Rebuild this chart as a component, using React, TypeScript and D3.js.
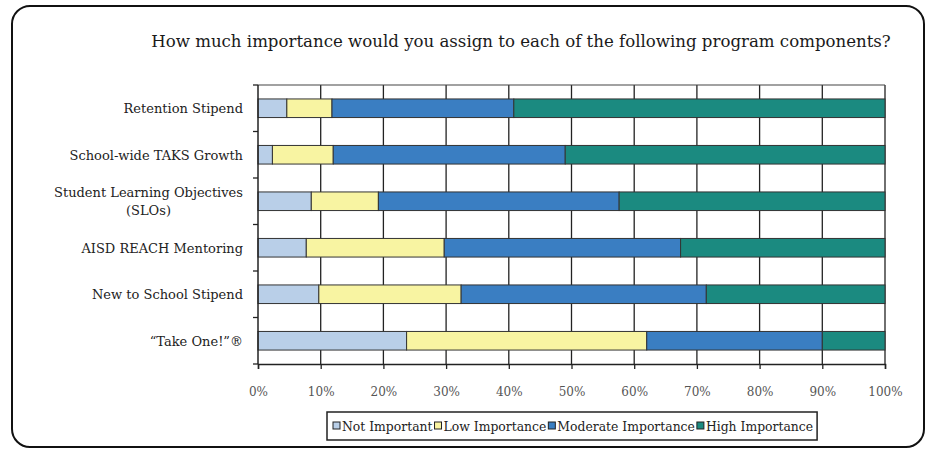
import React, { useEffect, useRef } from 'react';
import * as d3 from 'd3';

const categories = [
    'Retention Stipend',
    'School-wide TAKS Growth',
    'Student Learning Objectives|(SLOs)',
    'AISD REACH Mentoring',
    'New to School Stipend',
    '\u201CTake One!\u201D\u00AE',
];

const seriesNames = ['Not Important', 'Low Importance', 'Moderate Importance', 'High Importance'];

const notImportant = [4.6, 2.3, 8.5, 7.7, 9.7, 23.7];
const lowImportance = [7.2, 9.7, 10.7, 22.0, 22.7, 38.3];
const moderateImportance = [29.0, 37.0, 38.4, 37.7, 39.1, 28.0];
const highImportance = [59.2, 51.0, 42.4, 32.6, 28.5, 10.0];

const xTicks = [0, 10, 20, 30, 40, 50, 60, 70, 80, 90, 100];

const colors = ['#b9cfe8', '#f8f4a2', '#3a7ec2', '#1b8a80'];

const FONT = '"DejaVu Serif", "Liberation Serif", serif';

const App: React.FC = () => {
    const ref = useRef<SVGSVGElement | null>(null);

    useEffect(() => {
        if (!ref.current) return;
        const svg = d3.select(ref.current);
        svg.selectAll('*').remove();

        const width = 930;
        const height = 450;
        const margin = { left: 258, right: 45, top: 85, bottom: 86 };

        svg.append('rect').attr('width', width).attr('height', height).attr('fill', '#fff');

        // outer frame
        svg.append('rect')
            .attr('x', 12).attr('y', 6)
            .attr('width', 912).attr('height', 441)
            .attr('rx', 18)
            .attr('fill', 'none')
            .attr('stroke', '#111')
            .attr('stroke-width', 2);

        svg.append('text')
            .attr('x', 521).attr('y', 47)
            .attr('text-anchor', 'middle')
            .style('font-family', FONT)
            .style('font-size', '16.6px')
            .style('fill', '#1a1a1a')
            .text('How much importance would you assign to each of the following program components?');

        const x = d3.scaleLinear().domain([0, 100]).range([margin.left, width - margin.right]);
        const y = d3.scaleBand<string>()
            .domain(categories)
            .range([margin.top, height - margin.bottom])
            .paddingInner(0.6)
            .paddingOuter(0.3);

        const rows = categories.map((c, i) => ({
            cat: c,
            vals: [notImportant[i], lowImportance[i], moderateImportance[i], highImportance[i]],
        }));
        const stack = d3.stack<any>()
            .keys([0, 1, 2, 3] as any)
            .value((d: any, k: any) => d.vals[k]);
        const series = stack(rows);

        // vertical grid
        svg.append('g')
            .selectAll('line')
            .data(xTicks.slice(1))
            .enter().append('line')
            .attr('x1', d => x(d)).attr('x2', d => x(d))
            .attr('y1', margin.top).attr('y2', height - margin.bottom)
            .attr('stroke', '#222')
            .attr('stroke-width', 1.3);

        svg.append('line')
            .attr('x1', margin.left).attr('x2', width - margin.right)
            .attr('y1', margin.top).attr('y2', margin.top)
            .attr('stroke', '#444').attr('stroke-width', 1.2);

        // bars
        series.forEach((s, si) => {
            svg.append('g')
                .selectAll('rect')
                .data(s)
                .enter().append('rect')
                .attr('x', d => x(d[0]))
                .attr('width', d => x(d[1]) - x(d[0]))
                .attr('y', d => y((d.data as any).cat) as number)
                .attr('height', y.bandwidth())
                .attr('fill', colors[si])
                .attr('stroke', '#333')
                .attr('stroke-width', 1);
        });

        // bottom axis
        const xAxis = svg.append('g')
            .attr('transform', `translate(0,${height - margin.bottom})`)
            .call(d3.axisBottom(x).tickValues(xTicks).tickSize(5).tickFormat(d => `${d}%`));
        xAxis.select('.domain').attr('stroke', '#222').attr('stroke-width', 1.5);
        xAxis.selectAll('.tick line').attr('stroke', '#222').attr('stroke-width', 1.3);
        xAxis.selectAll('.tick text')
            .attr('y', 23)
            .style('font-family', FONT)
            .style('font-size', '12px')
            .style('fill', '#555');

        // left axis
        svg.append('line')
            .attr('x1', margin.left).attr('x2', margin.left)
            .attr('y1', margin.top).attr('y2', height - margin.bottom)
            .attr('stroke', '#222').attr('stroke-width', 1.5);
        const bounds = d3.range(categories.length + 1).map(i => margin.top + i * y.step());
        svg.append('g')
            .selectAll('line')
            .data(bounds)
            .enter().append('line')
            .attr('x1', margin.left - 5).attr('x2', margin.left)
            .attr('y1', d => d).attr('y2', d => d)
            .attr('stroke', '#222').attr('stroke-width', 1.3);

        // category labels
        categories.forEach(c => {
            const lines = c.split('|');
            const cy = (y(c) as number) + y.bandwidth() / 2;
            const t = svg.append('text')
                .style('font-family', FONT)
                .style('font-size', '13px')
                .style('fill', '#222');
            if (lines.length === 1) {
                t.attr('text-anchor', 'end').attr('x', 243).attr('y', cy + 5).text(c);
            } else {
                const first = t.attr('text-anchor', 'end').attr('x', 243).attr('y', cy - 4).text(lines[0]);
                const w = (first.node() as SVGTextElement).getComputedTextLength();
                svg.append('text')
                    .attr('text-anchor', 'middle')
                    .attr('x', 243 - w / 2).attr('y', cy + 14)
                    .style('font-family', FONT)
                    .style('font-size', '13px')
                    .style('fill', '#222')
                    .text(lines[1]);
            }
        });

        // legend
        const lg = svg.append('g');
        const box = lg.append('rect')
            .attr('y', 412).attr('height', 28)
            .attr('fill', '#fff')
            .attr('stroke', '#222')
            .attr('stroke-width', 1.5);
        let lx = 333;
        seriesNames.forEach((n, i) => {
            lg.append('rect')
                .attr('x', lx).attr('y', 422)
                .attr('width', 7).attr('height', 7)
                .attr('fill', colors[i])
                .attr('stroke', '#222');
            const t = lg.append('text')
                .attr('x', lx + 9).attr('y', 431)
                .style('font-family', FONT)
                .style('font-size', '12.4px')
                .style('fill', '#222')
                .text(n);
            lx += 9 + (t.node() as SVGTextElement).getComputedTextLength() + 2;
        });
        box.attr('x', 327).attr('width', lx - 327 + 2);
    }, []);

    return (
        <svg ref={ref} width={930} height={450} style={{ position: 'absolute', left: 0, top: 0 }}></svg>
    );
};

export default App;
